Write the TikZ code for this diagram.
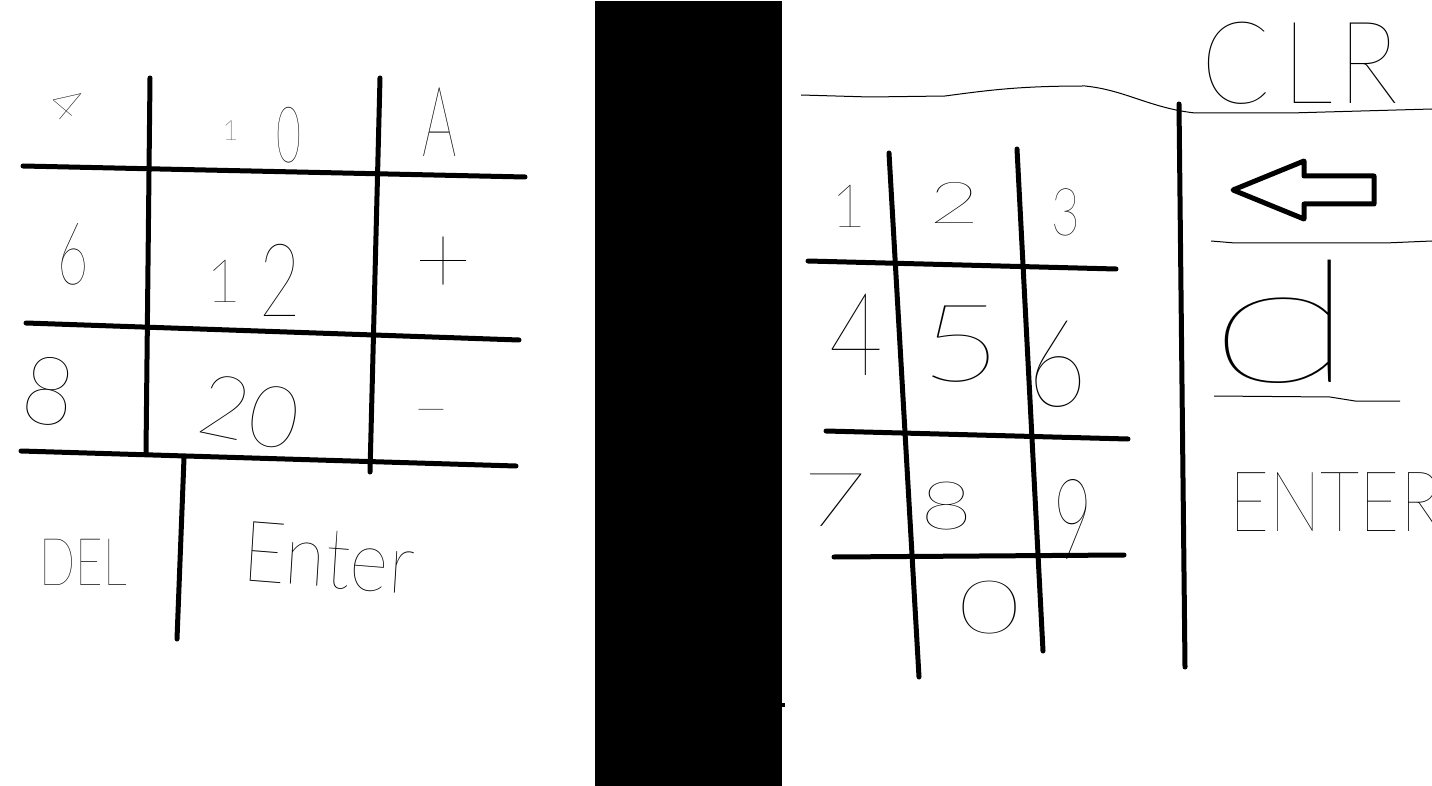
\documentclass[tikz,border=0pt]{standalone}
\usepackage{fontspec}
\newfontfamily\handfont{Lato Hairline}
\newcommand{\hw}[2]{{\fontsize{#1pt}{#1pt}\selectfont #2}}
\tikzset{
  x=1pt,y=-1pt,
  ruled/.style={line width=5pt,line cap=round,line join=round,black},
  thinrule/.style={line width=1pt,black},
  hand/.style={inner sep=0pt,outer sep=0pt,anchor=center,font=\handfont,text=black},
}
\begin{document}
\begin{tikzpicture}
\useasboundingbox (0,0) rectangle (1432,786);
\clip (0,0) rectangle (1432,786);
\fill[white] (0,0) rectangle (1432,786);
% left grid
\draw[ruled] (150,78) -- (146,453);
\draw[ruled] (380,78) -- (370,472);
\draw[ruled] (23,166) -- (525,177);
\draw[ruled] (26,323) -- (519,340);
\draw[ruled] (21,451) -- (516,466);
\draw[ruled] (184,458) -- (177,639);
% black block
\fill[black] (595,1) rectangle (782,786);
\fill[black] (782,703) rectangle (785,707);
% right grid
\draw[ruled] (889,153) -- (919,677);
\draw[ruled] (1017,149) -- (1043,651);
\draw[ruled] (808,261) -- (1116,269);
\draw[ruled] (826,431) -- (1128,439);
\draw[ruled] (834,557) -- (1124,555);
\draw[ruled] (1179,104) -- (1185,667);
\draw[thinrule] (801,95) -- (870,97) -- (945,96) .. controls (990,90) and (1020,86) .. (1085,86) .. controls (1125,90) and (1150,108) .. (1195,113) -- (1290,113) -- (1432,109);
\draw[thinrule] (1211,241) -- (1235,243) -- (1385,243) -- (1432,241);
\draw[thinrule] (1214,396) -- (1330,397) -- (1355,401) -- (1400,401);
\draw[line width=5pt,line join=round,black] (1233,190) -- (1304,161) -- (1304,176) -- (1374,176) -- (1374,204) -- (1304,204) -- (1304,219) -- cycle;
% left labels
\node[hand,rotate=-40] (a4) at (67,104) {\hw{48}{4}};
\node[hand] (a10) at (262,135) {\raisebox{22pt}{\hw{28}{1}}\hspace{38pt}\scalebox{.55}[1]{\hw{78}{0}}};
\node[hand,xscale=.55] (aA) at (440,122) {\hw{98}{A}};
\node[hand,xscale=.62] (a6) at (73,254) {\hw{87}{6}};
\node[hand] (a12) at (254,280) {\raisebox{14pt}{\hw{60}{1}}\hspace{18pt}\scalebox{.7}[1]{\hw{102}{2}}};
\node[hand] (aplus) at (443,266) {\hw{100}{+}};
\node[hand,xscale=.95,rotate=-8] (a8) at (49,391) {\hw{95}{8}};
\node[hand,rotate=-12] (a20) at (250,412) {\hw{86}{20}};
\node[hand] (aminus) at (431,420) {\hw{62}{−}};
\node[hand,xscale=.72] (aDEL) at (83,562) {\hw{66}{DEL}};
\node[hand,xscale=.88,rotate=-4] (aEnter) at (329,558) {\hw{85}{Enter}};
% right labels
\node[hand] (b1) at (849,206) {\hw{60}{1}};
\node[hand,xscale=1.5] (b2) at (955,203) {\hw{58}{2}};
\node[hand,xscale=.75] (b3) at (1066,212) {\hw{66}{3}};
\node[hand,xscale=.8] (b4) at (856,335) {\hw{116}{4}};
\node[hand,xscale=1.3] (b5) at (961,344) {\hw{108}{5}};
\node[hand,xscale=.85] (b6) at (1058,364) {\hw{122}{6}};
\node[hand,xscale=1.5] (b7) at (835,500) {\hw{75}{7}};
\node[hand,xscale=1.35] (b8) at (947,506) {\hw{67}{8}};
\node[hand,xscale=.6] (b9) at (1073,519) {\hw{113}{9}};
\node[hand,xscale=1.45] (b0) at (990,608) {\hw{74}{0}};
\node[hand,xscale=.88] (bCLR) at (1300,63) {\hw{115}{C\hspace{14pt}L\hspace{6pt}R}};
\node[hand,xscale=1.6] (bd) at (1282,322) {\hw{170}{d}};
\node[hand,anchor=west,xscale=.82] (bENTER) at (1229,502) {\hw{84}{ENTER}};
\end{tikzpicture}
\end{document}
